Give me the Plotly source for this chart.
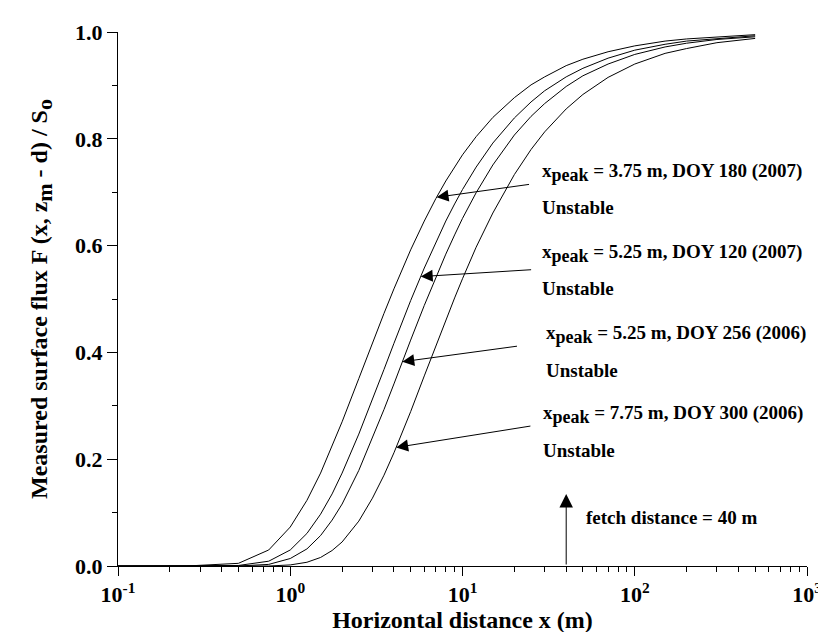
import numpy as np
import plotly.graph_objects as go

# ---------------- data ----------------
distance_m = [0.1, 0.25, 0.5, 0.75, 1, 1.25, 1.5, 1.75, 2, 2.5, 3, 3.5, 4, 4.5, 5,
              6, 7, 8, 9, 10, 12, 15, 20, 25, 30, 40, 50, 70, 100, 150, 200, 300, 500]

flux_doy180_2007 = [0.0, 0.0, 0.005, 0.030, 0.073, 0.123, 0.174, 0.224, 0.270, 0.351,
                    0.418, 0.473, 0.519, 0.559, 0.592, 0.646, 0.688, 0.721, 0.747,
                    0.770, 0.804, 0.840, 0.877, 0.901, 0.916, 0.937, 0.949, 0.963,
                    0.974, 0.983, 0.987, 0.991, 0.995]
flux_doy120_2007 = [0.0, 0.0, 0.001, 0.009, 0.030, 0.061, 0.097, 0.135, 0.174, 0.247,
                    0.311, 0.368, 0.417, 0.459, 0.497, 0.558, 0.607, 0.646, 0.678,
                    0.705, 0.747, 0.792, 0.839, 0.869, 0.890, 0.916, 0.932, 0.951,
                    0.966, 0.977, 0.983, 0.988, 0.993]
flux_doy256_2006 = [0.0, 0.0, 0.0, 0.003, 0.014, 0.032, 0.057, 0.086, 0.116, 0.179,
                    0.239, 0.293, 0.341, 0.385, 0.423, 0.488, 0.541, 0.584, 0.620,
                    0.651, 0.699, 0.751, 0.807, 0.842, 0.866, 0.898, 0.918, 0.940,
                    0.958, 0.972, 0.979, 0.986, 0.991]
flux_doy300_2006 = [0.0, 0.0, 0.0, 0.0, 0.002, 0.007, 0.016, 0.029, 0.045, 0.084,
                    0.127, 0.170, 0.212, 0.252, 0.289, 0.356, 0.412, 0.461, 0.502,
                    0.538, 0.597, 0.661, 0.733, 0.780, 0.813, 0.856, 0.883, 0.915,
                    0.940, 0.960, 0.969, 0.980, 0.988]

series = [flux_doy180_2007, flux_doy120_2007, flux_doy256_2006, flux_doy300_2006]
series_names = ["DOY 180 (2007)", "DOY 120 (2007)", "DOY 256 (2006)", "DOY 300 (2006)"]
peak_values = ["3.75 m", "5.25 m", "5.25 m", "7.75 m"]
stability_labels = ["Unstable", "Unstable", "Unstable", "Unstable"]
fetch_distance_m = 40
fetch_label = "fetch distance = 40 m"

x_tick_vals = [0.1, 1, 10, 100, 1000]
x_tick_text = ["10<sup>-1</sup>", "10<sup>0</sup>", "10<sup>1</sup>", "10<sup>2</sup>", "10<sup>3</sup>"]
y_tick_vals = [0.0, 0.2, 0.4, 0.6, 0.8, 1.0]
y_tick_text = ["0.0", "0.2", "0.4", "0.6", "0.8", "1.0"]

# ---------------- figure ----------------
FONT = "Liberation Serif, Times New Roman, serif"
ANN = 19


def sub(txt, size):
    # subscript drawn at (almost) full size, only lowered
    return "<sub><span style='font-size:%dpx'>%s</span></sub>" % (size, txt)


fig = go.Figure()
for vals, name in zip(series, series_names):
    fig.add_trace(go.Scatter(x=distance_m, y=vals, mode="lines", name=name,
                             line=dict(color="black", width=1)))

# arrows pointing to each curve (tip placed on the curve)
tip_x = [7.07, 5.72, 4.47, 4.12]
tail = [(1.395, 0.715), (1.407, 0.555), (1.325, 0.412), (1.403, 0.2625)]
text_pos = [(1.447, 0.737, 0.672), (1.447, 0.585, 0.519), (1.472, 0.433, 0.366),
            (1.455, 0.284, 0.216)]
logx = np.log10(distance_m)
for i, vals in enumerate(series):
    tx = np.log10(tip_x[i])
    ty = float(np.interp(tx, logx, vals))
    fig.add_annotation(x=tx, y=ty, ax=tail[i][0], ay=tail[i][1],
                       xref="x", yref="y", axref="x", ayref="y", text="",
                       showarrow=True, arrowhead=2, arrowsize=2.4, arrowwidth=1,
                       arrowcolor="black", standoff=0)
    label = "x" + sub("peak", ANN - 1) + " = " + peak_values[i] + ", " + series_names[i]
    fig.add_annotation(x=text_pos[i][0], y=text_pos[i][1], xref="x", yref="y",
                       text=label, showarrow=False, xanchor="left",
                       yanchor="middle", font=dict(family=FONT, size=ANN, color="black",
                                                   weight="bold"))
    fig.add_annotation(x=text_pos[i][0], y=text_pos[i][2], xref="x", yref="y",
                       text=stability_labels[i], showarrow=False, xanchor="left",
                       yanchor="middle", font=dict(family=FONT, size=ANN, color="black",
                                                   weight="bold"))

# fetch distance arrow
fx = np.log10(fetch_distance_m)
fig.add_annotation(x=fx, y=0.135, ax=fx, ay=0.0, xref="x", yref="y", axref="x", ayref="y",
                   text="", showarrow=True, arrowhead=2, arrowsize=2.7, arrowwidth=1,
                   arrowcolor="black", standoff=0)
fig.add_annotation(x=1.705, y=0.09, xref="x", yref="y", text=fetch_label, showarrow=False,
                   xanchor="left", yanchor="middle",
                   font=dict(family=FONT, size=ANN, color="black", weight="bold"))

minor_x = [k * 10.0 ** e for e in range(-1, 3) for k in range(2, 10)]

fig.update_layout(
    width=826, height=632,
    margin=dict(l=110, r=18, t=23, b=73),
    plot_bgcolor="white", paper_bgcolor="white",
    showlegend=False,
    font=dict(family=FONT, color="black"),
    xaxis=dict(type="log", range=[-1, 3], tickvals=x_tick_vals, ticktext=x_tick_text,
               ticks="outside", ticklen=9, tickwidth=1, tickcolor="black",
               showline=True, linecolor="black", linewidth=1, showgrid=False,
               zeroline=False, tickfont=dict(family=FONT, size=22, weight="bold"),
               title=dict(text="Horizontal distance x (m)", standoff=4,
                          font=dict(family=FONT, size=24, weight="bold")),
               minor=dict(tickvals=minor_x, ticks="outside", ticklen=5,
                          tickcolor="black", showgrid=False)),
    yaxis=dict(range=[0, 1], tickvals=y_tick_vals, ticktext=y_tick_text,
               ticks="outside", ticklen=10, tickwidth=1, tickcolor="black",
               showline=True, linecolor="black", linewidth=1, showgrid=False,
               zeroline=False, tickfont=dict(family=FONT, size=22, weight="bold"),
               title=dict(text="Measured surface flux F (x, z" + sub("m", 22) +
                               " - d) / S" + sub("o", 22),
                          standoff=20, font=dict(family=FONT, size=24, weight="bold")),
               minor=dict(tickvals=[0.1, 0.3, 0.5, 0.7, 0.9], ticks="outside", ticklen=5,
                          tickcolor="black", showgrid=False)),
)

fig.write_html("out.html")
